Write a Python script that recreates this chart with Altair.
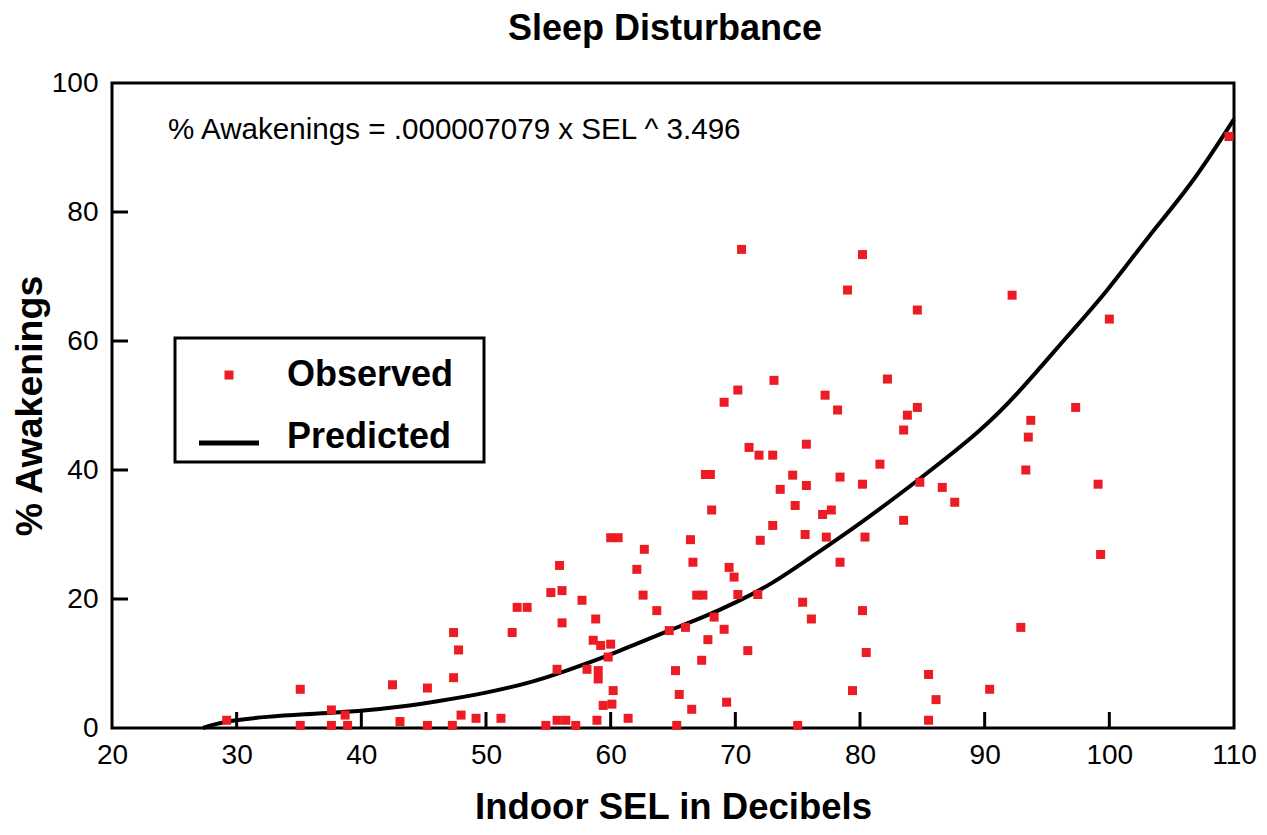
import altair as alt
import pandas as pd

# Observed points: (Indoor SEL dB, % awakenings)
sel = [29.2, 35.1, 35.1, 37.6, 37.6, 38.7, 38.9, 42.5, 43.1, 45.3, 45.3, 47.4, 47.8, 47.4, 47.3,
       48.0, 49.2, 51.2, 52.1, 52.5, 53.3,
       54.8, 55.2, 55.7, 55.7, 55.9, 56.1, 56.1, 56.4, 57.2, 57.7, 58.1, 58.6, 58.8, 58.9, 59.0,
       59.0, 59.2, 59.4, 59.8, 60.0, 60.0, 60.1, 60.2, 60.6, 61.4, 62.1, 62.6, 62.7, 63.7, 64.7,
       65.2, 65.3, 65.5, 66.0, 66.4, 66.5, 66.6, 66.9, 67.3, 67.4, 67.6, 67.8, 68.0, 68.1, 68.3,
       69.1, 69.1, 69.3, 69.5, 69.9, 70.2, 70.2, 70.5, 71.0, 71.1, 71.8, 71.9, 72.0, 73.0, 73.0,
       73.1, 73.6,
       80.2, 79.0, 84.6, 92.2, 100.0, 82.2, 77.2, 78.2, 84.6, 83.8, 83.5, 97.3, 93.7, 93.5, 93.3,
       75.7, 74.6, 75.7, 78.4, 80.2, 81.6, 99.1, 74.8, 77.0, 77.7, 84.8, 86.6, 87.6, 83.5, 75.6,
       77.3, 80.4, 78.4, 99.3, 75.4, 76.1, 80.2, 92.9, 80.5, 85.5, 79.4, 86.1, 90.4, 85.5, 75.0,
       109.6]
awak = [1.2, 6.0, 0.4, 2.8, 0.4, 2.0, 0.4, 6.7, 1.0, 6.2, 0.4, 14.8, 12.1, 7.8, 0.4,
        2.0, 1.5, 1.5, 14.8, 18.7, 18.7,
        0.4, 21.0, 9.1, 1.2, 25.2, 21.3, 16.3, 1.2, 0.4, 19.8, 9.1, 13.6, 16.9, 1.2, 8.9,
        7.6, 12.8, 3.5, 11.0, 13.0, 29.5, 3.7, 5.8, 29.5, 1.5, 24.6, 20.6, 27.7, 18.2, 15.1,
        8.9, 0.4, 5.2, 15.6, 29.2, 2.9, 25.7, 20.6, 10.5, 20.6, 39.3, 13.7, 39.3, 33.8, 17.2,
        15.3, 50.5, 4.0, 24.9, 23.4, 20.7, 52.4, 74.2, 12.0, 43.5, 20.7, 42.3, 29.1, 42.3, 31.4,
        53.9, 37.0,
        73.4, 67.9, 64.8, 67.1, 63.4, 54.1, 51.6, 49.3, 49.7, 48.5, 46.2, 49.7, 47.7, 45.1, 40.0,
        44.0, 39.2, 37.6, 38.9, 37.8, 40.9, 37.8, 34.5, 33.1, 33.8, 38.1, 37.3, 35.0, 32.2, 30.0,
        29.6, 29.6, 25.7, 26.9, 19.5, 16.9, 18.2, 15.6, 11.7, 8.3, 5.8, 4.4, 6.0, 1.2, 0.4,
        91.7]

# Predicted curve
pred_sel = [27.3, 28.4, 30.0, 32.4, 35.1, 40.0, 43.3, 46.0, 50.0, 53.9, 56.6, 59.8, 62.1, 64.8,
            67.6, 70.0, 73.0, 75.7, 79.9, 84.8, 89.8, 92.7, 96.6, 99.8, 103.1, 106.6, 110.0]
pred_awak = [0.0, 0.7, 1.25, 1.75, 2.1, 2.6, 3.3, 4.1, 5.4, 7.2, 9.0, 11.2, 13.1, 15.2,
             17.3, 19.4, 22.4, 26.0, 31.5, 38.6, 46.2, 51.9, 60.7, 67.6, 76.2, 84.2, 94.4]

x_labels = [20, 30, 40, 50, 60, 70, 80, 90, 100, 110]
y_labels = [0, 20, 40, 60, 80, 100]
x_ticks = [30, 40, 50, 60, 70, 80, 90, 100]
y_ticks = [20, 40, 60, 80]
series_names = ["Observed", "Predicted"]
annotation = ["% Awakenings = .000007079 x SEL ^ 3.496"]
annotation_pos = ([24.5], [92.7])

FONT = "Liberation Sans"
RED = "#ED1C24"
SQUARE = "M-0.15,-0.15H0.15V0.15H-0.15Z"
BAR = "M-1,0.115H1V0.285H-1Z"

W, H = 1122, 645

obs = pd.DataFrame({"sel": sel, "awak": awak, "series": "Observed"})
pred = pd.DataFrame({"sel": pred_sel, "awak": pred_awak})
xt_df = pd.DataFrame({"sel": x_ticks})
yt_df = pd.DataFrame({"awak": y_ticks})
ann_df = pd.DataFrame({"sel": annotation_pos[0], "awak": annotation_pos[1], "label": annotation})

xscale = alt.Scale(domain=[20, 110], nice=False, zero=False)
yscale = alt.Scale(domain=[0, 100], nice=False, zero=False)

xaxis = alt.Axis(values=x_labels, ticks=False, tickSize=0, domain=False, grid=False,
                 labelFontSize=28, labelPadding=13, labelFlush=False, labelOverlap=False,
                 labelFont=FONT, labelColor="black",
                 title="Indoor SEL in Decibels", titleFontSize=36.5, titleFont=FONT,
                 titleFontWeight="bold", titleColor="black", titlePadding=20)
yaxis = alt.Axis(values=y_labels, ticks=False, tickSize=0, domain=False, grid=False,
                 labelFontSize=28, labelPadding=14, labelFlush=False, labelOverlap=False,
                 labelFont=FONT, labelColor="black",
                 title="% Awakenings", titleFontSize=37.5, titleFont=FONT,
                 titleFontWeight="bold", titleColor="black", titlePadding=2)

# an invisible right-hand legend title only widens the legend box
legend = alt.Legend(orient="none", legendX=63, legendY=255, title=".",
                    titleOrient="right", titleOpacity=0, titleFontSize=4, titlePadding=22,
                    strokeColor="black", fillColor="white", padding=7,
                    symbolSize=3600, symbolOffset=17, symbolStrokeWidth=0, symbolOpacity=1,
                    labelFont=FONT, labelFontSize=36, labelFontWeight="bold",
                    labelColor="black", labelOffset=28, rowPadding=14, labelLimit=500)

points = alt.Chart(obs).mark_point(filled=True, opacity=1, size=3600, strokeWidth=0).encode(
    x=alt.X("sel:Q", scale=xscale, axis=xaxis),
    y=alt.Y("awak:Q", scale=yscale, axis=yaxis),
    color=alt.Color("series:N", scale=alt.Scale(domain=series_names, range=[RED, "black"]),
                    legend=legend),
    shape=alt.Shape("series:N", scale=alt.Scale(domain=series_names, range=[SQUARE, BAR]),
                    legend=legend),
)

line = alt.Chart(pred).mark_line(color="black", strokeWidth=4, interpolate="basis").encode(
    x=alt.X("sel:Q", scale=xscale),
    y=alt.Y("awak:Q", scale=yscale),
)

xticks = alt.Chart(xt_df).mark_rule(color="black", strokeWidth=3).encode(
    x=alt.X("sel:Q", scale=xscale),
    y=alt.value(H), y2=alt.value(H - 16),
)
yticks = alt.Chart(yt_df).mark_rule(color="black", strokeWidth=3).encode(
    y=alt.Y("awak:Q", scale=yscale),
    x=alt.value(0), x2=alt.value(16),
)

ann = alt.Chart(ann_df).mark_text(align="left", baseline="middle", fontSize=29.6, font=FONT,
                                  color="black").encode(
    x=alt.X("sel:Q", scale=xscale),
    y=alt.Y("awak:Q", scale=yscale),
    text="label:N",
)

chart = alt.layer(xticks, yticks, line, points, ann).properties(
    width=W, height=H,
    autosize=alt.AutoSizeParams(type="none"),
    padding={"left": 104, "top": 75, "right": 25, "bottom": 99},
    title=alt.Title("Sleep Disturbance", fontSize=36, fontWeight="bold", font=FONT,
                    color="black", offset=21, anchor="middle", dx=-8),
).configure_view(stroke="black", strokeWidth=3).configure_legend(strokeWidth=3)

chart.save("out.html", embed_options={"renderer": "svg", "actions": False})
